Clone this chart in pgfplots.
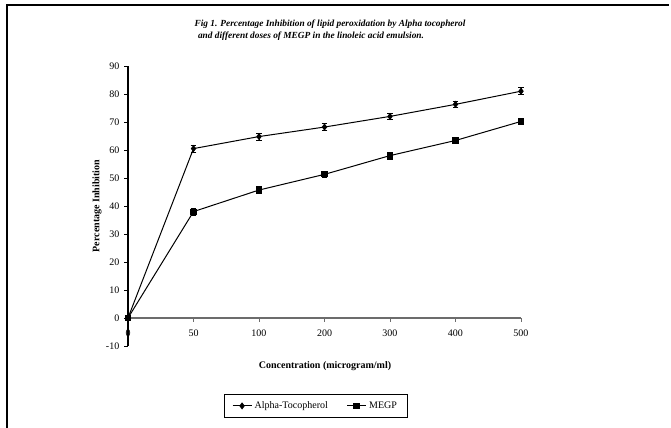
\documentclass[border=0pt]{standalone}
\usepackage{fontspec}
\setmainfont{Liberation Serif}
\usepackage{pgfplots}
\pgfplotsset{compat=1.18}
\begin{document}
\begin{tikzpicture}
\path[use as bounding box] (0pt,0pt) rectangle (503.25pt,321pt);
\draw[line width=1.6pt] (5.25pt,0pt) -- (5.25pt,317.25pt) -- (501.75pt,317.25pt);
\node[font=\bfseries\itshape\fontsize{7}{8}\selectfont] at (247.5pt,303pt) {Fig 1. Percentage Inhibition of lipid peroxidation by Alpha tocopherol};
\node[font=\bfseries\itshape\fontsize{7}{8}\selectfont] at (233.25pt,294pt) {and different doses of MEGP in the linoleic acid emulsion.};
\node[font=\bfseries\fontsize{7.5}{9}\selectfont] at (243.75pt,46.5pt) {Concentration (microgram/ml)};
\node[font=\bfseries\fontsize{7.5}{9}\selectfont, rotate=90] at (72.75pt,166.5pt) {Percentage Inhibition};
\begin{axis}[
  at={(96pt,61.5pt)}, anchor=south west,
  scale only axis, width=294.75pt, height=210pt,
  xmin=0, xmax=6, ymin=-10, ymax=90,
  axis x line=middle, axis y line=left,
  x axis line style={-, draw=gray!85!black, line width=0.8pt},
  y axis line style={-, black, line width=0.8pt},
  hide obscured x ticks=false, hide obscured y ticks=false,
  xtick={0,1,2,3,4,5,6}, xticklabels={0,50,100,200,300,400,500},
  ytick={-10,0,10,20,30,40,50,60,70,80,90},
  xtick align=outside, ytick align=outside,
  major tick length=3pt,
  x tick style={draw=gray!85!black, line width=0.6pt},
  y tick style={black, line width=0.6pt},
  tick label style={font=\fontsize{7.5}{9}\selectfont},
  xticklabel style={yshift=-2.5pt},
  /pgf/number format/assume math mode=true,
  clip=false,
  legend columns=2,
  legend style={at={(0.478,-0.214)}, anchor=center, draw=black, line width=0.6pt,
    font=\fontsize{7.5}{9}\selectfont, inner xsep=6pt, inner ysep=3pt,
    /tikz/every even column/.append style={column sep=12pt}},
  legend image code/.code={\draw[mark repeat=2,mark phase=2,#1] plot coordinates {(0cm,0cm) (0.25cm,0cm) (0.5cm,0cm)};},
]
\addplot[black, line width=0.75pt, mark=diamond*, mark size=2.1pt,
  error bars/.cd, y dir=both, y explicit,
  error bar style={line width=0.6pt},
  error mark options={rotate=90, mark size=2.2pt, line width=0.6pt}]
  coordinates {(0,0) +- (0,1.0) (1,60.5) +- (0,1.2) (2,64.8) +- (0,1.2) (3,68.2) +- (0,1.2) (4,72) +- (0,1.2) (5,76.3) +- (0,1.2) (6,81) +- (0,1.2)};
\addlegendentry{Alpha-Tocopherol}
\addplot[black, line width=0.75pt, mark=square*, mark size=1.9pt,
  error bars/.cd, y dir=both, y explicit,
  error bar style={line width=0.6pt},
  error mark options={rotate=90, mark size=2.2pt, line width=0.6pt}]
  coordinates {(0,0) +- (0,1.0) (1,38) +- (0,1.2) (2,45.7) +- (0,1.2) (3,51.3) +- (0,1.2) (4,58) +- (0,1.2) (5,63.4) +- (0,1.2) (6,70.2) +- (0,1.2)};
\addlegendentry{MEGP}
\end{axis}
\end{tikzpicture}
\end{document}
